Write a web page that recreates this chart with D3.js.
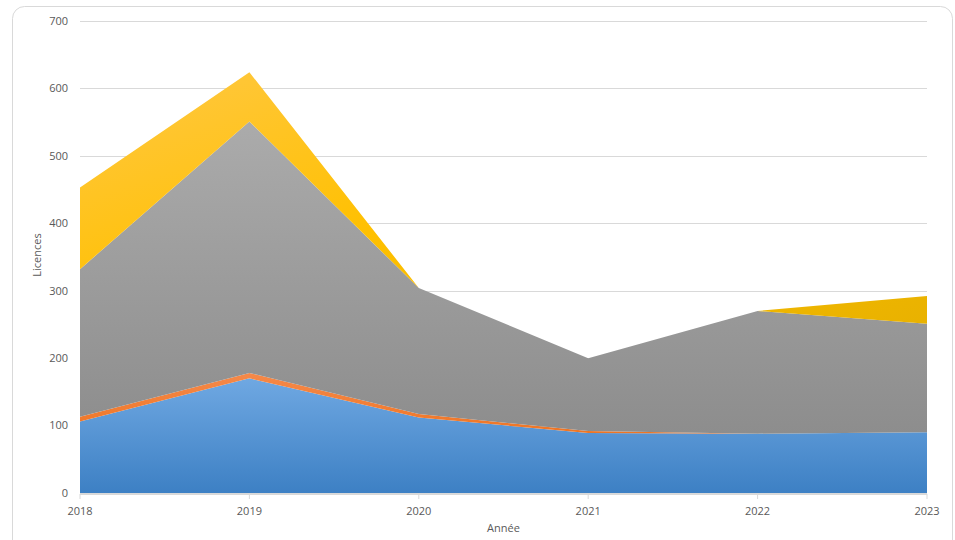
<!DOCTYPE html>
<html><head><meta charset="utf-8">
<script src="https://cdn.jsdelivr.net/npm/d3@7"></script>
<style>
html,body{margin:0;padding:0;background:#fff;}
svg{display:block;font-family:"Open Sans","Liberation Sans",sans-serif;}
</style></head>
<body><svg id="c" width="955" height="540"></svg>
<script>
const years = [2018, 2019, 2020, 2021, 2022, 2023];
const blueVals   = [106, 170, 112, 89, 88, 90];
const orangeVals = [7, 8, 5, 3, 0, 0];
const grayVals   = [219, 373, 187, 108, 182, 161];
const yellowVals = [121, 73, 0, 0, 0, 41];
const yTicks = [0, 100, 200, 300, 400, 500, 600, 700];
const seriesKeys = ["blue", "orange", "gray", "yellow"];

const rows = years.map((y, i) => ({year: y, blue: blueVals[i], orange: orangeVals[i], gray: grayVals[i], yellow: yellowVals[i]}));

const svg = d3.select("#c");
const W = 955, H = 540;
const m = {l: 80, r: 28, t: 21, b: 47};

svg.append("rect").attr("x", 12.5).attr("y", 6.5).attr("width", 940).attr("height", 560)
  .attr("rx", 12).attr("fill", "#fff").attr("stroke", "#d9d9d9");

const x = d3.scaleLinear().domain([2018, 2023]).range([m.l, W - m.r]);
const y = d3.scaleLinear().domain([0, 700]).range([H - m.b, m.t]);

const defs = svg.append("defs");
const grads = {
  blue: {dir: [0, 0, 0, 1], stops: [["0%", "#6fa8e2"], ["100%", "#3d80c4"]]},
  orange: {dir: [0, 0, 0, 1], stops: [["0%", "#f5894a"], ["100%", "#ee7524"]]},
  gray: {dir: [0, 0, 0, 1], stops: [["0%", "#ababab"], ["100%", "#8d8d8d"]]},
  yellow: {dir: [0, 0, 1, 1], stops: [["0%", "#ffc845"], ["45%", "#ffc000"], ["100%", "#e6b000"]]}
};
Object.entries(grads).forEach(([k, c]) => {
  const g = defs.append("linearGradient").attr("id", "g-" + k)
    .attr("x1", c.dir[0]).attr("y1", c.dir[1]).attr("x2", c.dir[2]).attr("y2", c.dir[3]);
  c.stops.forEach(s => g.append("stop").attr("offset", s[0]).attr("stop-color", s[1]));
});

// gridlines
svg.append("g").selectAll("line").data(yTicks.filter(t => t > 0)).join("line")
  .attr("x1", m.l).attr("x2", W - m.r)
  .attr("y1", d => Math.round(y(d)) + 0.5).attr("y2", d => Math.round(y(d)) + 0.5)
  .attr("stroke", "#d9d9d9").attr("stroke-width", 1);

const stack = d3.stack().keys(seriesKeys)(rows);
const area = d3.area().x(d => x(d.data.year)).y0(d => y(d[0])).y1(d => y(d[1]));

svg.append("g").selectAll("path").data(stack).join("path")
  .attr("d", area)
  .attr("fill", d => "url(#g-" + d.key + ")");

// x axis line
svg.append("line").attr("x1", m.l).attr("x2", W - m.r)
  .attr("y1", y(0) + 1).attr("y2", y(0) + 1).attr("stroke", "#d9d9d9").attr("stroke-width", 2);
svg.append("g").selectAll("line").data(years).join("line")
  .attr("x1", d => x(d)).attr("x2", d => x(d))
  .attr("y1", y(0) + 1).attr("y2", y(0) + 6).attr("stroke", "#d9d9d9");

// y tick labels
svg.append("g").selectAll("text").data(yTicks).join("text")
  .attr("x", 68).attr("y", d => y(d)).attr("dy", "0.35em")
  .attr("text-anchor", "end").attr("font-size", 11).attr("fill", "#595959")
  .text(d => d);

// x tick labels
svg.append("g").selectAll("text").data(years).join("text")
  .attr("x", d => x(d)).attr("y", y(0) + 22)
  .attr("text-anchor", "middle").attr("font-size", 11).attr("fill", "#595959")
  .text(d => d);

svg.append("text").attr("x", (m.l + W - m.r) / 2).attr("y", 532)
  .attr("text-anchor", "middle").attr("font-size", 11).attr("fill", "#595959").text("Année");
svg.append("text").attr("transform", "translate(41," + (y(350) - 2) + ") rotate(-90)")
  .attr("text-anchor", "middle").attr("font-size", 11).attr("fill", "#595959").text("Licences");
</script></body></html>
